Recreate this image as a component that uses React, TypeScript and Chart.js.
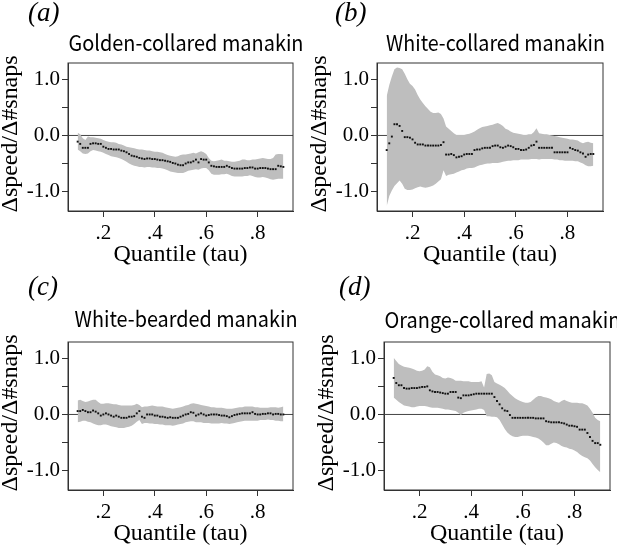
import React, { useEffect, useRef } from "react";
import { Chart, registerables } from "chart.js";

Chart.register(...registerables);

// ---------- data ----------
const TAU = [
  0.10, 0.11, 0.12, 0.13, 0.14, 0.15, 0.16, 0.17, 0.18, 0.19,
  0.20, 0.21, 0.22, 0.23, 0.24, 0.25, 0.26, 0.27, 0.28, 0.29,
  0.30, 0.31, 0.32, 0.33, 0.34, 0.35, 0.36, 0.37, 0.38, 0.39,
  0.40, 0.41, 0.42, 0.43, 0.44, 0.45, 0.46, 0.47, 0.48, 0.49,
  0.50, 0.51, 0.52, 0.53, 0.54, 0.55, 0.56, 0.57, 0.58, 0.59,
  0.60, 0.61, 0.62, 0.63, 0.64, 0.65, 0.66, 0.67, 0.68, 0.69,
  0.70, 0.71, 0.72, 0.73, 0.74, 0.75, 0.76, 0.77, 0.78, 0.79,
  0.80, 0.81, 0.82, 0.83, 0.84, 0.85, 0.86, 0.87, 0.88, 0.89,
  0.90,
];

// (a) Golden-collared manakin
const A_MID = [
  -0.11, -0.15, -0.22, -0.22, -0.22, -0.15, -0.14, -0.14, -0.15, -0.15,
  -0.20, -0.22, -0.24, -0.24, -0.25, -0.25, -0.25, -0.27, -0.28, -0.30,
  -0.33, -0.36, -0.37, -0.38, -0.40, -0.41, -0.42, -0.41, -0.41, -0.42,
  -0.42, -0.43, -0.44, -0.44, -0.45, -0.46, -0.47, -0.49, -0.50, -0.52,
  -0.53, -0.53, -0.50, -0.48, -0.48, -0.46, -0.43, -0.48, -0.42, -0.43,
  -0.43, -0.48, -0.54, -0.55, -0.56, -0.56, -0.56, -0.56, -0.54, -0.56,
  -0.58, -0.59, -0.59, -0.59, -0.59, -0.58, -0.58, -0.57, -0.57, -0.59,
  -0.59, -0.58, -0.58, -0.58, -0.59, -0.60, -0.60, -0.60, -0.54, -0.55,
  -0.56,
];
const A_UP = [
  0.05, 0.02, -0.05, -0.08, -0.02, -0.03, -0.03, -0.04, -0.05, -0.06,
  -0.08, -0.10, -0.11, -0.12, -0.12, -0.13, -0.15, -0.16, -0.18, -0.20,
  -0.21, -0.22, -0.23, -0.24, -0.25, -0.25, -0.26, -0.27, -0.27, -0.28,
  -0.29, -0.29, -0.30, -0.31, -0.33, -0.35, -0.36, -0.37, -0.38, -0.37,
  -0.35, -0.34, -0.34, -0.33, -0.32, -0.31, -0.32, -0.30, -0.28, -0.30,
  -0.33, -0.40, -0.45, -0.46, -0.45, -0.44, -0.43, -0.45, -0.45, -0.46,
  -0.47, -0.47, -0.46, -0.45, -0.43, -0.43, -0.44, -0.44, -0.43, -0.43,
  -0.42, -0.41, -0.40, -0.41, -0.42, -0.42, -0.40, -0.34, -0.33, -0.33,
  -0.34,
];
const A_LO = [
  -0.25, -0.28, -0.32, -0.33, -0.32, -0.28, -0.26, -0.27, -0.28, -0.29,
  -0.31, -0.33, -0.35, -0.37, -0.38, -0.39, -0.40, -0.42, -0.44, -0.47,
  -0.50, -0.52, -0.54, -0.55, -0.56, -0.56, -0.57, -0.56, -0.56, -0.57,
  -0.57, -0.58, -0.58, -0.59, -0.60, -0.62, -0.64, -0.65, -0.66, -0.67,
  -0.67, -0.67, -0.65, -0.63, -0.62, -0.61, -0.60, -0.61, -0.59, -0.58,
  -0.58, -0.62, -0.68, -0.70, -0.70, -0.70, -0.69, -0.69, -0.68, -0.70,
  -0.72, -0.73, -0.73, -0.73, -0.73, -0.72, -0.72, -0.71, -0.72, -0.74,
  -0.75, -0.75, -0.74, -0.75, -0.76, -0.78, -0.79, -0.78, -0.77, -0.77,
  -0.77,
];

// (b) White-collared manakin
const B_MID = [
  -0.26, -0.14, -0.02, 0.20, 0.20, 0.17, 0.08, -0.03, -0.03, -0.04,
  -0.07, -0.13, -0.16, -0.16, -0.16, -0.18, -0.18, -0.18, -0.18, -0.18,
  -0.18, -0.17, -0.12, -0.34, -0.34, -0.33, -0.35, -0.39, -0.38, -0.37,
  -0.34, -0.33, -0.33, -0.33, -0.26, -0.25, -0.25, -0.23, -0.22, -0.22,
  -0.22, -0.19, -0.18, -0.18, -0.21, -0.22, -0.20, -0.18, -0.19, -0.21,
  -0.24, -0.24, -0.26, -0.26, -0.25, -0.22, -0.18, -0.17, -0.11, -0.22,
  -0.22, -0.22, -0.22, -0.22, -0.22, -0.30, -0.30, -0.30, -0.30, -0.30,
  -0.30, -0.22, -0.24, -0.26, -0.27, -0.30, -0.32, -0.38, -0.34, -0.33,
  -0.33,
];
const B_UP = [
  0.70, 0.90, 1.05, 1.18, 1.21, 1.20, 1.18, 1.10, 1.00, 0.92,
  0.88, 0.82, 0.72, 0.64, 0.58, 0.52, 0.47, 0.42, 0.40, 0.40,
  0.41, 0.38, 0.30, 0.16, 0.12, 0.08, 0.04, 0.01, 0.01, 0.01,
  0.01, 0.02, 0.03, 0.05, 0.07, 0.10, 0.13, 0.15, 0.16, 0.17,
  0.18, 0.19, 0.21, 0.22, 0.20, 0.17, 0.12, 0.10, 0.07, 0.05,
  0.04, 0.03, 0.02, 0.01, 0.01, 0.02, 0.02, 0.06, 0.13, 0.04,
  0.03, 0.02, 0.02, 0.01, 0.00, -0.01, -0.02, -0.03, -0.04, -0.05,
  -0.06, -0.07, -0.07, -0.08, -0.09, -0.12, -0.14, -0.12, -0.11, -0.13,
  -0.14,
];
const B_LO = [
  -1.26, -1.08, -0.98, -0.90, -0.85, -0.80, -0.86, -0.95, -0.97, -0.97,
  -0.96, -0.94, -0.92, -0.91, -0.92, -0.93, -0.92, -0.91, -0.89, -0.86,
  -0.82, -0.78, -0.62, -0.72, -0.70, -0.69, -0.68, -0.66, -0.64, -0.62,
  -0.61, -0.59, -0.58, -0.58, -0.57, -0.55, -0.53, -0.52, -0.51, -0.50,
  -0.50, -0.49, -0.49, -0.49, -0.48, -0.47, -0.46, -0.45, -0.45, -0.44,
  -0.44, -0.44, -0.43, -0.43, -0.43, -0.43, -0.42, -0.42, -0.42, -0.43,
  -0.42, -0.42, -0.42, -0.42, -0.42, -0.43, -0.43, -0.44, -0.44, -0.45,
  -0.45, -0.45, -0.45, -0.46, -0.46, -0.48, -0.50, -0.53, -0.55, -0.55,
  -0.54,
];

// (c) White-bearded manakin
const C_MID = [
  0.06, 0.06, 0.08, 0.06, 0.04, 0.04, 0.07, 0.05, 0.02, -0.02,
  0.00, 0.02, 0.00, -0.02, -0.04, -0.02, -0.04, -0.06, -0.06, -0.06,
  -0.04, -0.04, -0.03, 0.02, 0.06, -0.04, -0.06, 0.00, 0.00, 0.00,
  -0.02, -0.02, -0.04, -0.04, -0.05, -0.06, -0.05, -0.06, -0.06, -0.06,
  -0.04, -0.02, 0.00, 0.01, 0.04, 0.03, -0.02, 0.00, 0.02, 0.00,
  -0.02, -0.01, 0.00, 0.00, 0.00, -0.01, -0.02, -0.02, -0.03, -0.05,
  -0.03, -0.01, 0.00, 0.01, 0.02, 0.02, 0.02, 0.02, 0.04, 0.01,
  0.00, 0.00, 0.01, 0.01, 0.02, 0.02, 0.00, 0.01, 0.01, 0.00,
  0.00,
];
const C_UP = [
  0.25, 0.26, 0.24, 0.22, 0.23, 0.25, 0.26, 0.26, 0.22, 0.19,
  0.19, 0.20, 0.20, 0.19, 0.18, 0.18, 0.17, 0.16, 0.16, 0.16,
  0.16, 0.16, 0.17, 0.19, 0.17, 0.13, 0.14, 0.14, 0.15, 0.16,
  0.15, 0.14, 0.14, 0.14, 0.13, 0.12, 0.11, 0.10, 0.11, 0.12,
  0.13, 0.14, 0.16, 0.17, 0.19, 0.20, 0.19, 0.18, 0.17, 0.16,
  0.15, 0.14, 0.13, 0.13, 0.12, 0.12, 0.12, 0.11, 0.10, 0.10,
  0.10, 0.11, 0.12, 0.13, 0.13, 0.14, 0.14, 0.14, 0.14, 0.13,
  0.13, 0.12, 0.12, 0.12, 0.12, 0.13, 0.13, 0.13, 0.12, 0.13,
  0.14,
];
const C_LO = [
  -0.14, -0.13, -0.11, -0.11, -0.13, -0.14, -0.16, -0.18, -0.19, -0.19,
  -0.18, -0.18, -0.19, -0.21, -0.22, -0.23, -0.24, -0.24, -0.24, -0.23,
  -0.22, -0.20, -0.17, -0.13, -0.10, -0.17, -0.15, -0.15, -0.16, -0.16,
  -0.17, -0.17, -0.18, -0.18, -0.19, -0.19, -0.19, -0.20, -0.19, -0.18,
  -0.17, -0.16, -0.14, -0.13, -0.12, -0.12, -0.14, -0.14, -0.14, -0.15,
  -0.15, -0.15, -0.16, -0.16, -0.16, -0.16, -0.15, -0.16, -0.16, -0.17,
  -0.16, -0.15, -0.14, -0.13, -0.12, -0.11, -0.11, -0.11, -0.11, -0.11,
  -0.11, -0.10, -0.10, -0.10, -0.09, -0.10, -0.10, -0.11, -0.11, -0.12,
  -0.12,
];

// (d) Orange-collared manakin
const D_MID = [
  0.65, 0.56, 0.52, 0.52, 0.47, 0.46, 0.46, 0.47, 0.47, 0.47,
  0.48, 0.49, 0.49, 0.50, 0.43, 0.41, 0.40, 0.40, 0.39, 0.38,
  0.37, 0.37, 0.40, 0.40, 0.40, 0.30, 0.29, 0.34, 0.34, 0.34,
  0.35, 0.36, 0.37, 0.37, 0.37, 0.37, 0.37, 0.37, 0.37, 0.31,
  0.24, 0.18, 0.11, 0.07, 0.06, -0.01, -0.06, -0.06, -0.06, -0.06,
  -0.06, -0.06, -0.06, -0.06, -0.06, -0.07, -0.07, -0.07, -0.07, -0.12,
  -0.13, -0.14, -0.14, -0.14, -0.14, -0.15, -0.16, -0.18, -0.20, -0.20,
  -0.21, -0.22, -0.27, -0.27, -0.27, -0.33, -0.40, -0.47, -0.51, -0.51,
  -0.54,
];
const D_UP = [
  1.01, 0.95, 0.90, 0.87, 0.85, 0.84, 0.83, 0.82, 0.80, 0.78,
  0.77, 0.78, 0.80, 0.86, 0.84, 0.76, 0.71, 0.70, 0.68, 0.65,
  0.64, 0.66, 0.65, 0.63, 0.60, 0.60, 0.60, 0.59, 0.59, 0.59,
  0.58, 0.58, 0.58, 0.58, 0.59, 0.48, 0.72, 0.73, 0.70, 0.58,
  0.55, 0.53, 0.50, 0.47, 0.42, 0.37, 0.33, 0.29, 0.26, 0.24,
  0.22, 0.21, 0.21, 0.22, 0.26, 0.30, 0.33, 0.33, 0.31, 0.30,
  0.29, 0.27, 0.24, 0.22, 0.21, 0.24, 0.26, 0.24, 0.22, 0.21,
  0.21, 0.21, 0.20, 0.20, 0.18, 0.16, 0.10, 0.03, -0.06, -0.10,
  -0.12,
];
const D_LO = [
  0.30, 0.26, 0.22, 0.19, 0.16, 0.15, 0.14, 0.13, 0.13, 0.14,
  0.15, 0.15, 0.15, 0.14, 0.13, 0.12, 0.12, 0.12, 0.11, 0.10,
  0.09, 0.09, 0.08, 0.07, 0.06, 0.03, -0.01, 0.03, 0.05, 0.06,
  0.07, 0.08, 0.09, 0.10, 0.10, 0.08, -0.03, -0.03, -0.04, -0.04,
  -0.05, -0.10, -0.18, -0.26, -0.32, -0.36, -0.39, -0.40, -0.40, -0.39,
  -0.38, -0.38, -0.38, -0.39, -0.40, -0.41, -0.43, -0.46, -0.50, -0.55,
  -0.55, -0.52, -0.50, -0.51, -0.53, -0.56, -0.58, -0.59, -0.61, -0.62,
  -0.64, -0.67, -0.71, -0.74, -0.76, -0.78, -0.82, -0.88, -0.94, -0.99,
  -1.03,
];

const X_TICKS = [0.2, 0.4, 0.6, 0.8];
const X_TICK_LABELS = [".2", ".4", ".6", ".8"];
const Y_TICKS = [-1, -0.5, 0, 0.5, 1];
const Y_TICK_LABELS = ["-1.0", "", "0.0", "", "1.0"];
const X_TITLE = "Quantile (tau)";
const Y_TITLE = "Δspeed/Δ#snaps";

const LETTERS = ["(a)", "(b)", "(c)", "(d)"];
const TITLES = [
  "Golden-collared manakin",
  "White-collared manakin",
  "White-bearded manakin",
  "Orange-collared manakin",
];
const MIDS = [A_MID, B_MID, C_MID, D_MID];
const UPS = [A_UP, B_UP, C_UP, D_UP];
const LOS = [A_LO, B_LO, C_LO, D_LO];

// ---------- layout / style ----------
const LAYOUT = [
  { left: 0, top: 0, width: 308, height: 273, pad: { top: 63, right: 15, bottom: 6, left: 0 }, letterX: 28, letterY: 21, titleDy: 12, titleW: 235 },
  { left: 309, top: 0, width: 308, height: 273, pad: { top: 63, right: 14, bottom: 6, left: 0 }, letterX: 26, letterY: 21, titleDy: 12, titleW: 219 },
  { left: 0, top: 273, width: 308, height: 273, pad: { top: 69, right: 15, bottom: 0, left: 0 }, letterX: 28, letterY: 22, titleDy: 15, titleW: 223 },
  { left: 316, top: 273, width: 301, height: 273, pad: { top: 69, right: 7, bottom: 0, left: 0 }, letterX: 23, letterY: 22, titleDy: 14, titleW: 236 },
];

const SERIF = '"Liberation Serif", "Times New Roman", serif';
const SANS = '"Noto Sans CJK JP", "Noto Sans", sans-serif';
const BOX = "#333333";
const BAND = "#bebebe";

const panelDecor = {
  id: "panelDecor",
  beforeDatasetsDraw(chart: any) {
    const { ctx, chartArea, scales } = chart;
    const y0 = scales.y.getPixelForValue(0);
    ctx.save();
    ctx.strokeStyle = "#444444";
    ctx.lineWidth = 1;
    ctx.beginPath();
    ctx.moveTo(chartArea.left, y0);
    ctx.lineTo(chartArea.right, y0);
    ctx.stroke();
    ctx.restore();
  },
  afterDraw(chart: any, _args: any, opts: any) {
    const { ctx, chartArea } = chart;
    ctx.save();
    ctx.strokeStyle = BOX;
    ctx.lineWidth = 1;
    ctx.strokeRect(
      chartArea.left,
      chartArea.top,
      chartArea.right - chartArea.left,
      chartArea.bottom - chartArea.top
    );
    ctx.fillStyle = "#000";
    // panel title
    ctx.font = `22px ${SANS}`;
    ctx.textAlign = "center";
    ctx.textBaseline = "alphabetic";
    ctx.fillText(
      opts.title,
      (chartArea.left + chartArea.right) / 2 + 5.5,
      chartArea.top - opts.titleDy,
      opts.titleW
    );
    // panel letter
    ctx.font = `italic 27px ${SERIF}`;
    ctx.textAlign = "left";
    ctx.fillText(opts.letter, opts.letterX, opts.letterY);
    ctx.restore();

    // y-axis title (rotated)
    ctx.save();
    ctx.fillStyle = "#000";
    ctx.font = `23px ${SERIF}`;
    const w = ctx.measureText(opts.yTitle).width || 1;
    ctx.translate(chartArea.left - 51, (chartArea.top + chartArea.bottom) / 2 - 3);
    ctx.rotate(-Math.PI / 2);
    ctx.scale(157 / w, 1);
    ctx.textAlign = "center";
    ctx.textBaseline = "alphabetic";
    ctx.fillText(opts.yTitle, 0, 0);
    ctx.restore();
  },
};

function Panel({ idx }: { idx: number }) {
  const ref = useRef<HTMLCanvasElement | null>(null);
  const lay = LAYOUT[idx];

  useEffect(() => {
    if (!ref.current) return;
    const mid = MIDS[idx];
    const up = UPS[idx];
    const lo = LOS[idx];
    const tickFont = { family: SERIF, size: 21 };
    const gridOpts = {
      drawOnChartArea: false,
      drawTicks: true,
      tickLength: 6,
      color: BOX,
      lineWidth: 1,
    };
    const chart = new Chart(ref.current, {
      type: "line",
      data: {
        datasets: [
          {
            label: "estimate",
            data: TAU.map((t, i) => ({ x: t, y: mid[i] })),
            showLine: false,
            pointStyle: "rect",
            pointRadius: 1.35,
            pointBorderWidth: 0,
            pointBackgroundColor: "#111111",
            borderColor: "#111111",
            order: 0,
          },
          {
            label: "upper",
            data: TAU.map((t, i) => ({ x: t, y: up[i] })),
            borderWidth: 0,
            borderColor: "rgba(0,0,0,0)",
            pointRadius: 0,
            backgroundColor: BAND,
            fill: "+1",
            tension: 0,
            order: 1,
          },
          {
            label: "lower",
            data: TAU.map((t, i) => ({ x: t, y: lo[i] })),
            borderWidth: 0,
            borderColor: "rgba(0,0,0,0)",
            pointRadius: 0,
            fill: false,
            tension: 0,
            order: 2,
          },
        ],
      },
      options: {
        animation: false,
        responsive: false,
        maintainAspectRatio: false,
        layout: { padding: lay.pad },
        plugins: {
          legend: { display: false },
          tooltip: { enabled: false },
          title: { display: false },
          panelDecor: {
            title: TITLES[idx],
            titleW: lay.titleW,
            letter: LETTERS[idx],
            letterX: lay.letterX,
            letterY: lay.letterY,
            titleDy: lay.titleDy,
            yTitle: Y_TITLE,
          },
        } as any,
        scales: {
          x: {
            type: "linear",
            min: 0.0625,
            max: 0.9375,
            afterBuildTicks: (s: any) => {
              s.ticks = X_TICKS.map((v) => ({ value: v }));
            },
            afterFit: (s: any) => {
              s.height = 56;
            },
            ticks: {
              callback: (_v: any, i: number) => X_TICK_LABELS[i],
              font: tickFont,
              color: "#000",
              padding: 4,
              maxRotation: 0,
              autoSkip: false,
            },
            grid: gridOpts,
            border: { display: true, color: BOX, width: 1 },
            title: {
              display: true,
              text: X_TITLE,
              font: { family: SERIF, size: 24, lineHeight: 1 },
              color: "#000",
              padding: { top: 0, bottom: 0 },
            },
          },
          y: {
            type: "linear",
            min: -1.345,
            max: 1.29,
            afterBuildTicks: (s: any) => {
              s.ticks = Y_TICKS.map((v) => ({ value: v }));
            },
            afterFit: (s: any) => {
              s.width = 68;
            },
            ticks: {
              callback: (_v: any, i: number) => Y_TICK_LABELS[i],
              font: tickFont,
              color: "#000",
              padding: 2,
              autoSkip: false,
            },
            grid: gridOpts,
            border: { display: true, color: BOX, width: 1 },
            title: { display: false },
          },
        } as any,
      },
      plugins: [panelDecor],
    } as any);
    return () => chart.destroy();
  }, [idx]);

  return (
    <canvas
      ref={ref}
      width={lay.width}
      height={lay.height}
      style={{
        position: "absolute",
        left: lay.left,
        top: lay.top,
        width: lay.width,
        height: lay.height,
      }}
    />
  );
}

export default function App() {
  return (
    <div
      style={{
        position: "absolute",
        left: 0,
        top: 0,
        width: 617,
        height: 546,
        background: "#ffffff",
        overflow: "hidden",
      }}
    >
      {[0, 1, 2, 3].map((i) => (
        <Panel key={i} idx={i} />
      ))}
    </div>
  );
}
